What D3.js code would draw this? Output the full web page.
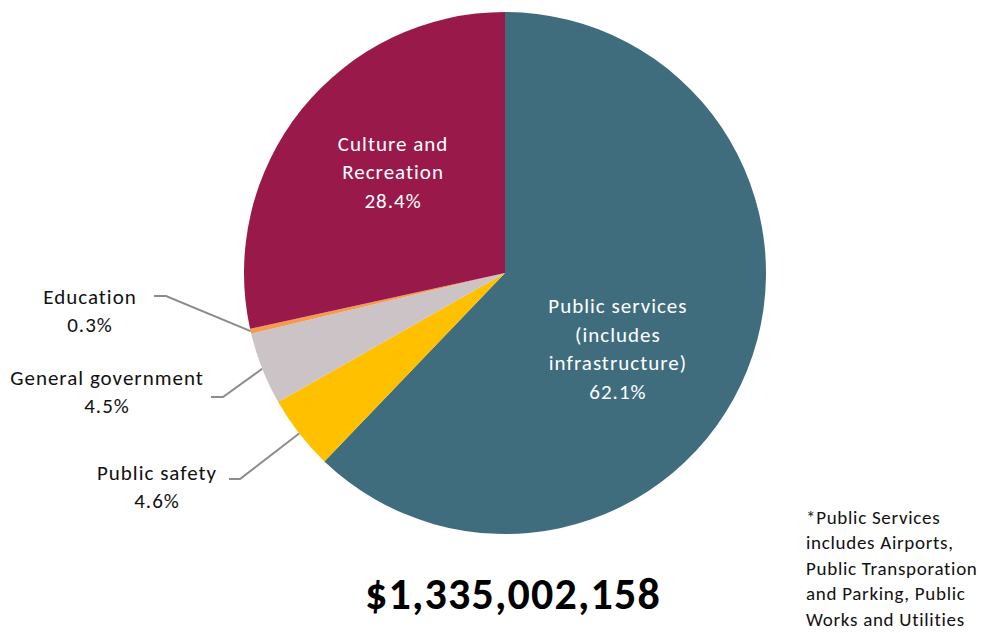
<!DOCTYPE html>
<html lang="en">
<head>
<meta charset="UTF-8">
<title>Expenditures by function</title>
<script src="https://d3js.org/d3.v7.min.js"></script>
<style>
    body { margin: 0; background: #fff; }
    text { font-family: Carlito, Calibri, Lato, "Open Sans", sans-serif; }
</style>
</head>
<body>
<svg width="990" height="633"></svg>
<script>
    // slices clockwise from 12 o'clock
    const categories = ["Public services (includes infrastructure)", "Public safety", "General government", "Education", "Culture and Recreation"];
    const values = [62.1, 4.6, 4.5, 0.3, 28.4];
    const colors = ["#3F6D7E", "#FFC000", "#CBC3C5", "#F59A4E", "#991A4A"];
    const labelLines = [
        ["Public services", "(includes", "infrastructure)", "62.1%"],
        ["Public safety", "4.6%"],
        ["General government", "4.5%"],
        ["Education", "0.3%"],
        ["Culture and", "Recreation", "28.4%"]
    ];
    const total = "$1,335,002,158";
    const footnote = ["*Public Services", "includes Airports,", "Public Transporation", "and Parking, Public", "Works and Utilities"];

    const width = 990, height = 633;
    const cx = 505, cy = 273, r = 261;

    const svg = d3.select("svg");
    const g = svg.append("g").attr("transform", `translate(${cx},${cy})`);

    const pie = d3.pie().sort(null).value(d => d);
    const arcs = pie(values);
    const arc = d3.arc().innerRadius(0).outerRadius(r);

    g.selectAll("path.slice")
        .data(arcs)
        .enter().append("path")
        .attr("class", "slice")
        .attr("d", arc)
        .attr("fill", (d, i) => colors[i]);

    // inside labels: centroid at a fraction of r, nudged
    const inside = { 0: { rad: 0.52, dx: -13, dy: 25 }, 4: { rad: 0.575, dx: 5, dy: -7 } };
    const lineH = 28.5;
    Object.keys(inside).forEach(k => {
        const i = +k;
        const a = (arcs[i].startAngle + arcs[i].endAngle) / 2;
        const rr = r * inside[k].rad;
        const x = Math.sin(a) * rr + inside[k].dx, y = -Math.cos(a) * rr + inside[k].dy;
        const lines = labelLines[i];
        const t = g.append("text")
            .attr("text-anchor", "middle")
            .attr("fill", "#fff")
            .attr("font-size", 21)
            .attr("letter-spacing", 1);
        lines.forEach((s, j) => {
            t.append("tspan")
                .attr("x", x)
                .attr("y", y + (j - (lines.length - 1) / 2) * lineH + 7.5)
                .text(s);
        });
    });

    // outside labels with leader lines (elbow + text center in page coords)
    const outside = [
        { i: 1, elbow: [240, 479], end: [229, 479], text: [157, 472] },
        { i: 2, elbow: [223, 397], end: [211, 397], text: [107, 377] },
        { i: 3, elbow: [166, 296], end: [154, 296], text: [90, 296] }
    ];
    outside.forEach(o => {
        const d = arcs[o.i];
        const a = (d.startAngle + d.endAngle) / 2;
        const px = cx + Math.sin(a) * r, py = cy - Math.cos(a) * r;
        svg.append("polyline")
            .attr("points", [[px, py], o.elbow, o.end].map(p => p.join(",")).join(" "))
            .attr("fill", "none")
            .attr("stroke", "#8C8C8C")
            .attr("stroke-width", 2);
        const t = svg.append("text")
            .attr("text-anchor", "middle")
            .attr("fill", "#111")
            .attr("font-size", 21)
            .attr("letter-spacing", 1);
        labelLines[o.i].forEach((s, j) => {
            t.append("tspan")
                .attr("x", o.text[0])
                .attr("y", o.text[1] + j * lineH + 7.5)
                .text(s);
        });
    });

    svg.append("text")
        .attr("x", 513)
        .attr("y", 609)
        .attr("text-anchor", "middle")
        .attr("font-size", 44)
        .attr("font-weight", "bold")
        .attr("letter-spacing", 1.2)
        .attr("fill", "#000")
        .text(total);

    const fn = svg.append("text")
        .attr("fill", "#111")
        .attr("font-size", 19)
        .attr("letter-spacing", 0.7);
    footnote.forEach((s, j) => {
        fn.append("tspan")
            .attr("x", 806)
            .attr("y", 524 + j * 25.4)
            .text(s);
    });
</script>
</body>
</html>
